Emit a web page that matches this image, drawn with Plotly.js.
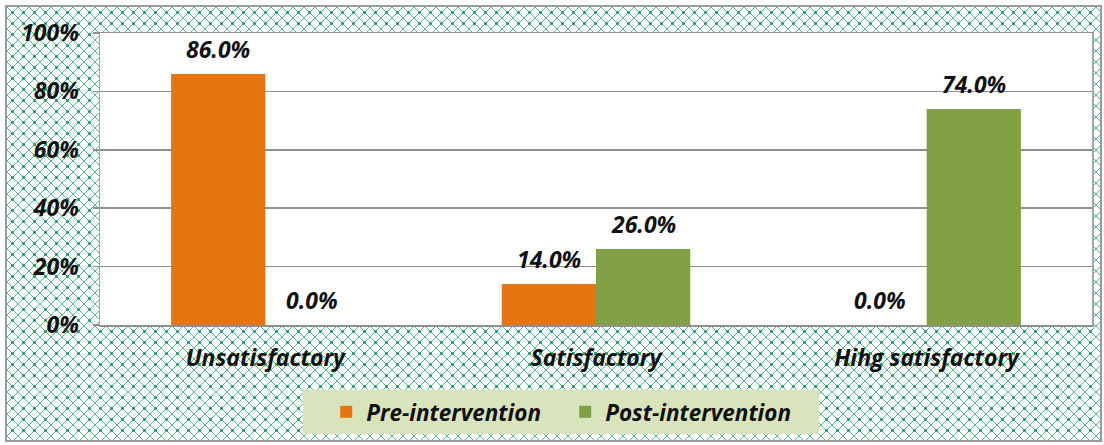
<!DOCTYPE html>
<html><head><meta charset="utf-8">
<script src="https://cdn.plot.ly/plotly-3.0.1.min.js"></script>
<style>
html,body{margin:0;padding:0;background:#fff;}
#wrap{position:relative;width:1104px;height:445px;overflow:hidden;}
#bg{position:absolute;left:5px;top:5px;width:1093px;height:433px;border:2px solid #9a9a9a;
background-color:#ffffff;
background-image:
 radial-gradient(circle at 50% 50%, rgba(35,160,100,0.9) 0 1.4px, transparent 2px),
 linear-gradient(45deg, transparent 45.5%, rgba(45,168,110,0.8) 45.5% 54.5%, transparent 54.5%),
 linear-gradient(-45deg, transparent 45.5%, rgba(45,168,110,0.8) 45.5% 54.5%, transparent 54.5%);
background-size:11px 11px;}
#chart{position:absolute;left:0;top:0;width:1104px;height:445px;}
</style></head>
<body><div id="wrap"><div id="bg"></div><div id="chart"></div></div>
<script>
const categories = ['Unsatisfactory', 'Satisfactory', 'Hihg satisfactory'];
const seriesNames = ['Pre-intervention', 'Post-intervention'];
const preValues = [0.86, 0.14, 0.0];
const postValues = [0.0, 0.26, 0.74];
const yTickValues = [0, 0.2, 0.4, 0.6, 0.8, 1.0];

const FONT = '"Open Sans", Lato, sans-serif';
const BARGAP = 0.43;
const colors = ['#e5740f', '#81a044'];
const txtFont = {family: FONT, size: 23, color: '#111', weight: 'bold', style: 'italic'};
const legFont = {family: FONT, size: 22.5, color: '#111', weight: 'bold', style: 'italic'};

const traces = [preValues, postValues].map((vals, i) => ({
  type: 'bar', name: seriesNames[i], x: categories, y: vals,
  marker: {color: colors[i], line: {width: 0}}, hoverinfo: 'skip'
}));

const off = (1 - BARGAP) / 4;
const annotations = [];
[preValues, postValues].forEach((vals, si) => {
  vals.forEach((v, ci) => {
    annotations.push({
      x: ci + (si === 0 ? -off : off), y: v, xref: 'x', yref: 'y',
      text: (v * 100).toFixed(1) + '%', showarrow: false,
      yanchor: 'middle', yshift: 25, font: txtFont
    });
  });
});

const layout = {
  width: 1104, height: 445,
  margin: {l: 100, r: 12, t: 33, b: 120, pad: 0},
  paper_bgcolor: 'rgba(0,0,0,0)', plot_bgcolor: '#ffffff',
  barmode: 'group', bargap: BARGAP, bargroupgap: 0,
  font: {family: FONT},
  xaxis: {
    type: 'category', showline: true, linecolor: '#8f8f8f', linewidth: 1.5, mirror: true,
    ticks: '', tickfont: txtFont, ticklabelstandoff: 12, fixedrange: true
  },
  yaxis: {
    range: [0, 1], tickvals: yTickValues, tickformat: '.0%',
    showgrid: true, gridcolor: '#8f8f8f', gridwidth: 1.5,
    showline: true, linecolor: '#a6a6a6', linewidth: 1.5, mirror: true,
    zeroline: false, ticks: 'outside', ticklen: 6, tickcolor: '#8f8f8f', tickwidth: 1.5,
    tickfont: txtFont, ticklabelstandoff: 9, fixedrange: true
  },
  shapes: [{
    type: 'rect', xref: 'paper', yref: 'paper', layer: 'below',
    x0: 0.2046, x1: 0.7248, y0: -0.373, y1: -0.222,
    fillcolor: '#d8e4bc', line: {width: 0}
  }],
  legend: {
    orientation: 'h', xref: 'container', yref: 'container',
    x: 0.2955, y: 0.122, xanchor: 'left', yanchor: 'top',
    bgcolor: 'rgba(0,0,0,0)', borderwidth: 0, font: legFont,
    entrywidth: 194, itemwidth: 30
  },
  annotations: annotations,
  showlegend: true
};

Plotly.newPlot('chart', traces, layout, {displayModeBar: false, staticPlot: true});
</script></body></html>
